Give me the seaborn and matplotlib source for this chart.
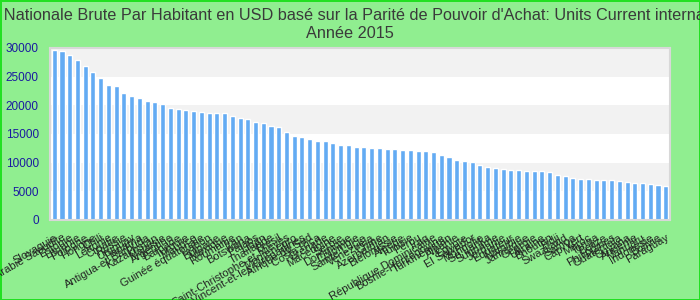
import matplotlib
matplotlib.use("Agg")
import matplotlib.pyplot as plt
import seaborn as sns
import pandas as pd

countries = [
    "Slovaquie", "Arabie Saoudite", "Estonie", "Lituanie", "Pologne", "Hongrie",
    "Chili", "Lettonie", "Croatie", "Russie", "Uruguay", "Panama",
    "Antigua-et-Barbuda", "Kazakhstan", "Malaisie", "Argentine", "Barbade", "Turquie",
    "Maurice", "Guinée équatoriale", "Gabon", "Bulgarie", "Mexique", "Roumanie",
    "Iran", "Botswana", "Palaos", "Liban", "Thaïlande", "Brésil",
    "Saint-Christophe-et-Niévès", "Montenegro", "Saint-Vincent-et-les Grenadines",
    "Afrique du Sud", "Costa Rica", "Grenade", "Macédoine", "Serbie", "Dominique",
    "Colombie", "Sainte-Lucie", "Venezuela", "Chine", "Azerbaïdjan", "Biélorussie",
    "Algérie", "Tunisie", "Pérou", "Iraq", "République Dominicaine",
    "Bosnie-Herzégovine", "Turkménistan", "Albanie", "Egypte", "El Salvador",
    "Mongolie", "Sri Lanka", "Suriname", "Jordanie", "Equateur", "Namibie",
    "Jamaïque", "Géorgie", "Ukraine", "Bhoutan", "Fidji", "Swaziland",
    "Samoa", "Cap-Vert", "Maroc", "Tonga", "Belize", "Philippines",
    "Guatemala", "Guyana", "Arménie", "Vanuatu", "Indonésie", "Bolivie", "Paraguay",
]

gni_ppp = [
    29700, 29500, 28850, 27970, 26920, 25870, 24820, 23600, 23430, 22200,
    21680, 21330, 20800, 20630, 20280, 19580, 19400, 19230, 19060, 18880,
    18700, 18700, 18700, 18180, 17830, 17650, 17130, 16960, 16430, 16260,
    15380, 14690, 14510, 14160, 13810, 13810, 13460, 13110, 13110, 12760,
    12760, 12590, 12590, 12410, 12410, 12240, 12240, 12060, 12060, 11890,
    11360, 11010, 10490, 10310, 10140, 9620, 9270, 9090, 8920, 8740,
    8740, 8570, 8570, 8570, 8390, 7870, 7690, 7340, 7170, 7170,
    6990, 6990, 6990, 6820, 6640, 6470, 6470, 6290, 6120, 5940,
]

y_ticks = [0, 5000, 10000, 15000, 20000, 25000, 30000]

title_line1 = ("Revenu Nationale Brute Par Habitant en USD basé sur la Parité de "
               "Pouvoir d'Achat: Units Current international $")
title_line2 = "Année 2015"

df = pd.DataFrame({"pays": countries, "valeur": gni_ppp})

sns.set_theme(style="white")
plt.rcParams["font.family"] = ["Liberation Sans", "DejaVu Sans"]

fig = plt.figure(figsize=(7, 3), dpi=100, facecolor="#90ee90",
                 edgecolor="#22e022", linewidth=2)
ax = fig.add_axes([50 / 700, 1 - 220 / 300, 620 / 700, 172 / 300])
ax.set_facecolor("white")

# alternating bands
for i in range(len(y_ticks) - 1):
    if i % 2 == 1:
        ax.axhspan(y_ticks[i], y_ticks[i + 1], color="#f2f2f2", zorder=0, lw=0)

sns.barplot(data=df, x="pays", y="valeur", color="#63abf3", saturation=1,
            width=0.65, ax=ax, zorder=2)

ax.set_xlim(-0.55, len(countries) - 0.45)
ax.set_ylim(0, 30000)
ax.set_yticks(y_ticks)
ax.set_yticklabels([str(t) for t in y_ticks], color="#1a1aa0", fontsize=8.5)
ax.set_xlabel("")
ax.set_ylabel("")
ax.tick_params(axis="x", length=0, pad=9)
ax.tick_params(axis="y", length=0, pad=8)
for lab in ax.get_xticklabels():
    lab.set_rotation(30)
    lab.set_ha("right")
    lab.set_rotation_mode("anchor")
    lab.set_fontsize(8)
    lab.set_color("#222222")

for s in ax.spines.values():
    s.set_color("#d8d8d8")
    s.set_linewidth(1.5)

fig.text(0.5, 1 - 15 / 300, title_line1, ha="center", va="center",
         fontsize=11.7, color="#3a3a3a")
fig.text(0.5, 1 - 33 / 300, title_line2, ha="center", va="center",
         fontsize=11.7, color="#3a3a3a")

fig.savefig("out.png", dpi=100, facecolor=fig.get_facecolor(),
            edgecolor=fig.get_edgecolor())
